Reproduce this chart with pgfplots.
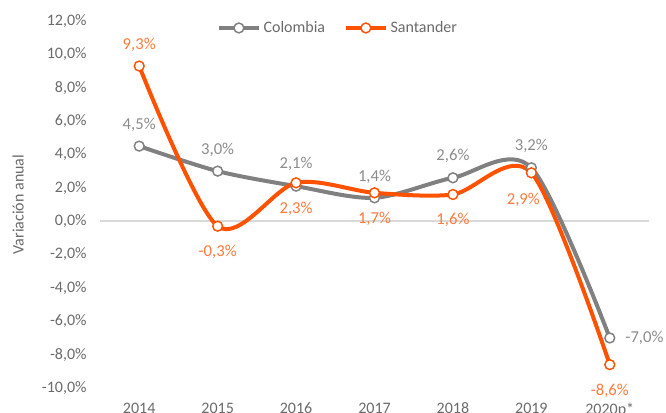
\documentclass[border=0pt]{standalone}
\usepackage{fontspec}
\setmainfont{Carlito}
\usepackage{pgfplots}
\pgfplotsset{compat=1.18}
\definecolor{colgray}{HTML}{808080}
\definecolor{colorange}{HTML}{FF5200}
\definecolor{labgray}{HTML}{8C8C8C}
\definecolor{laborange}{HTML}{FF7A3D}
\definecolor{ticktext}{HTML}{6A6A6A}
\definecolor{zeroline}{HTML}{D9D9D9}
\begin{document}
\begin{tikzpicture}[x=1pt,y=1pt]
\begin{axis}[
  at={(0,0)}, anchor=south west,
  scale only axis, width=411.75pt, height=275.25pt,
  xmin=2013.5, xmax=2020.5, ymin=-10, ymax=12,
  ytick={-10,-8,-6,-4,-2,0,2,4,6,8,10,12},
  xtick={2014,2015,2016,2017,2018,2019,2020},
  xticklabels={2014,2015,2016,2017,2018,2019,2020p*},
  axis line style={draw=none}, major tick length=0pt,
  /pgf/number format/assume math mode=true,
  yticklabel={\pgfmathprintnumber[fixed,fixed zerofill,precision=1,use comma]{\tick}\%},
  tick label style={font=\fontsize{12}{14}\selectfont, text=ticktext},
  yticklabel style={xshift=-6.5pt},
  xticklabel style={yshift=-7.5pt},
  extra y ticks={0}, extra y tick labels={},
  extra y tick style={grid=major, grid style={color=zeroline, line width=1.2pt}},
  ylabel={Variación anual},
  ylabel style={at={(axis description cs:-0.149,0.5)}, anchor=center, font=\fontsize{12}{14}\selectfont, text=ticktext},
  legend columns=2,
  legend style={draw=none, fill=none, at={(axis description cs:0.434,0.981)}, anchor=center,
    font=\fontsize{12}{14}\selectfont, text=ticktext,
    /tikz/every even column/.append style={column sep=12pt}},
  legend image code/.code={\draw[#1,mark repeat=2,mark phase=2] plot coordinates {(0pt,0pt)(15pt,0pt)(30pt,0pt)};},
  nodes near coords={\pgfmathprintnumber[fixed,fixed zerofill,precision=1,use comma,assume math mode=true]{\pgfplotspointmeta}\%},
  visualization depends on={value \thisrow{dx} \as \dx},
  visualization depends on={value \thisrow{dy} \as \dy},
  every node near coord/.append style={anchor=center, xshift=\dx pt, yshift=\dy pt, font=\fontsize{12.5}{14}\selectfont},
]
\addplot[colgray, line width=3pt, smooth, tension=0.5, mark=*, mark size=3.7pt,
  mark options={fill=white, draw=colgray, line width=1.1pt},
  every node near coord/.append style={text=labgray}]
  table[x=x, y=y, meta=y] {
x    y    dx   dy
2014 4.5  0    16
2015 3.0  0    16
2016 2.1  0    16.5
2017 1.4  0    16
2018 2.6  0    16.5
2019 3.2  0    16.5
2020 -7.0 26   0
};
\addlegendentry{Colombia}
\addplot[colorange, line width=3pt, smooth, tension=0.5, mark=*, mark size=3.7pt,
  mark options={fill=white, draw=colorange, line width=1.1pt},
  every node near coord/.append style={text=laborange}]
  table[x=x, y=y, meta=y] {
x    y    dx   dy
2014 9.3  0    16
2015 -0.3 0    -19.5
2016 2.3  0    -19.5
2017 1.7  0    -19.5
2018 1.6  0    -19
2019 2.9  -6   -20
2020 -8.6 0    -19.5
};
\addlegendentry{Santander}
\end{axis}
\pgfresetboundingbox
\path[use as bounding box] (-75,-18.75) rectangle (424.5,291);
\end{tikzpicture}
\end{document}
